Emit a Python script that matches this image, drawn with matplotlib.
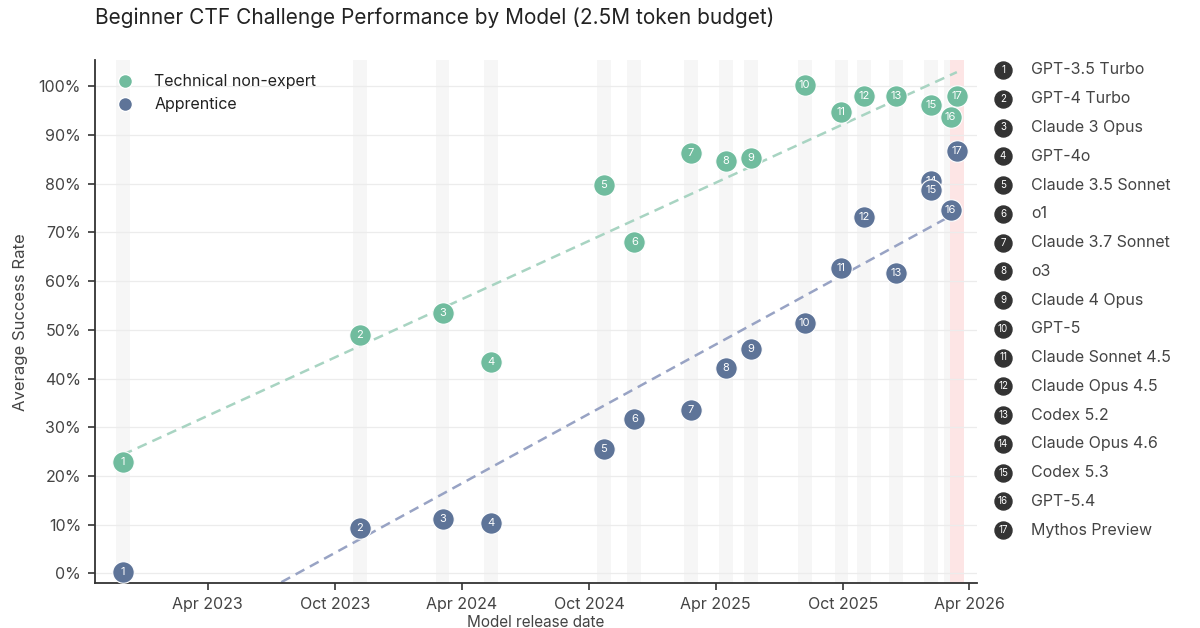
import matplotlib
matplotlib.use("Agg")
import matplotlib.pyplot as plt
import matplotlib.dates as mdates
import numpy as np
import datetime as dt

# ---------------- data ----------------
model_names = ["GPT-3.5 Turbo", "GPT-4 Turbo", "Claude 3 Opus", "GPT-4o", "Claude 3.5 Sonnet",
               "o1", "Claude 3.7 Sonnet", "o3", "Claude 4 Opus", "GPT-5", "Claude Sonnet 4.5",
               "Claude Opus 4.5", "Codex 5.2", "Claude Opus 4.6", "Codex 5.3", "GPT-5.4",
               "Mythos Preview"]
release_dates = ["2022-11-30", "2023-11-06", "2024-03-04", "2024-05-13", "2024-10-22",
                 "2024-12-05", "2025-02-24", "2025-04-16", "2025-05-22", "2025-08-07",
                 "2025-09-29", "2025-10-31", "2025-12-16", "2026-02-05", "2026-02-05",
                 "2026-03-05", "2026-03-14"]
technical_non_expert = [22.9, 48.9, 53.4, 43.4, 79.7, 68.0, 86.3, 84.7, 85.3, 100.2,
                        94.7, 98.0, 98.0, 96.1, 96.1, 93.6, 98.1]
apprentice = [0.3, 9.3, 11.1, 10.3, 25.5, 31.7, 33.6, 42.2, 46.1, 51.4,
              62.6, 73.1, 61.7, 80.6, 78.7, 74.7, 86.8]
highlight_model = "Mythos Preview"
series_names = ["Technical non-expert", "Apprentice"]
x_tick_dates = ["2023-04-01", "2023-10-01", "2024-04-01", "2024-10-01",
                "2025-04-01", "2025-10-01", "2026-04-01"]
y_ticks = [0, 10, 20, 30, 40, 50, 60, 70, 80, 90, 100]

# ---------------- style ----------------
FONT = ["Inter", "DejaVu Sans"]
plt.rcParams["font.family"] = FONT
GREEN = "#70bc9e"
BLUE = "#5e7498"
GREEN_LINE = "#a8d4c2"
BLUE_LINE = "#98a3c4"
TEXT = "#444444"

dates = [dt.datetime.strptime(d, "%Y-%m-%d") for d in release_dates]
xnum = mdates.date2num(dates)

fig = plt.figure(figsize=(12, 6.28), dpi=100)
ax = fig.add_axes([95 / 1200, 1 - 583.3 / 628, 882 / 1200, (583.3 - 60) / 628])

# release bands
half = 10
for name, d in zip(model_names, dates):
    if name == highlight_model:
        continue
    ax.axvspan(d - dt.timedelta(days=half), d + dt.timedelta(days=half),
               color="#f6f6f6", zorder=0, lw=0)
for name, d in zip(model_names, dates):
    if name == highlight_model:
        ax.axvspan(d - dt.timedelta(days=half), d + dt.timedelta(days=half),
                   color="#fde5e5", zorder=0.5, lw=0)

# grid
for yv in y_ticks:
    ax.axhline(yv, color="#ececec", lw=0.9, zorder=1)

# trend lines
xs = np.array([xnum.min(), xnum.max()])
for vals, lc in [(technical_non_expert, GREEN_LINE), (apprentice, BLUE_LINE)]:
    k, b = np.polyfit(xnum, vals, 1)
    ax.plot(xs, k * xs + b, ls=(0, (4, 2.5)), color=lc, lw=1.8, zorder=2)

# points
for vals, c, lab in [(technical_non_expert, GREEN, series_names[0]),
                     (apprentice, BLUE, series_names[1])]:
    for i, (x, y) in enumerate(zip(xnum, vals)):
        ax.scatter([x], [y], s=240, color=c, edgecolor="white", linewidth=0.8,
                   zorder=3 + i * 0.01)
        ax.text(x, y, str(i + 1), color="white", fontsize=8, ha="center",
                va="center", zorder=3 + i * 0.01 + 0.005)

# legend
handles = [plt.Line2D([], [], marker="o", ls="", markersize=10, color=GREEN,
                      markeredgecolor="white"),
           plt.Line2D([], [], marker="o", ls="", markersize=10, color=BLUE,
                      markeredgecolor="white")]
leg = ax.legend(handles, series_names, loc="upper left", frameon=False,
                fontsize=11.5, handletextpad=0.8, labelspacing=0.5,
                bbox_to_anchor=(0.0, 1.0), borderaxespad=0.5)
for t in leg.get_texts():
    t.set_color("#222222")

# axes formatting
ax.set_xlim(dt.datetime(2022, 10, 21), dt.datetime(2026, 4, 12))
ax.set_ylim(-2.05, 105.4)
ax.set_xticks([dt.datetime.strptime(d, "%Y-%m-%d") for d in x_tick_dates])
ax.xaxis.set_major_formatter(mdates.DateFormatter("%b %Y"))
ax.set_yticks(y_ticks)
ax.set_yticklabels([f"{v}%" for v in y_ticks])
ax.tick_params(axis="both", labelsize=11.5, labelcolor=TEXT, color="#333333",
               length=5, width=1.2, direction="out", pad=5)
for s in ["top", "right"]:
    ax.spines[s].set_visible(False)
for s in ["left", "bottom"]:
    ax.spines[s].set_color("#333333")
    ax.spines[s].set_linewidth(1.3)
ax.set_ylabel("Average Success Rate", fontsize=12, color=TEXT, labelpad=8)
ax.set_xlabel("Model release date", fontsize=11, color=TEXT, labelpad=2)

fig.text(95 / 1200, 1 - 18 / 628, "Beginner CTF Challenge Performance by Model (2.5M token budget)",
         fontsize=15, color="#222222", ha="left", va="center")

# model key list
n = len(model_names)
axl = fig.add_axes([990 / 1200, 1 - (70 + 28.75 * (n - 0.5)) / 628, 210 / 1200,
                    28.75 * n / 628])
axl.set_xlim(0, 1)
axl.set_ylim(n - 0.5, -0.5)
axl.axis("off")
for i, name in enumerate(model_names):
    axl.scatter([0.062], [i], s=150, color="#333333", zorder=2)
    axl.text(0.062, i, str(i + 1), color="white", fontsize=7, ha="center",
             va="center", zorder=3)
    axl.text(0.195, i, name, color=TEXT, fontsize=11.5, ha="left", va="center")

fig.savefig("out.png", dpi=100, facecolor="white")
